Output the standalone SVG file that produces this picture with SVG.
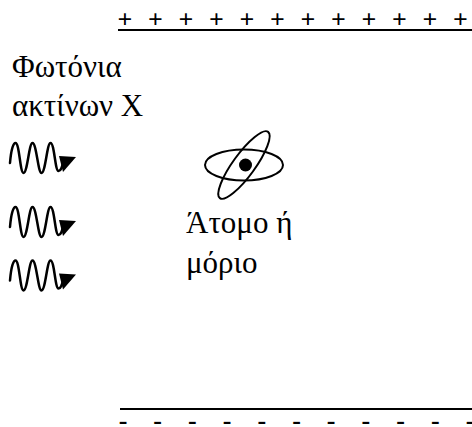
<svg xmlns="http://www.w3.org/2000/svg" width="472" height="427" viewBox="0 0 472 427">
  <style>
    .label { font-family: "Liberation Serif", "Times New Roman", serif; font-size: 31px; fill: #000; }
    .sign { font-family: "Liberation Serif", "Times New Roman", serif; font-size: 26px; font-weight: bold; fill: #000; text-anchor: middle; }
    .plate { stroke: #000; stroke-width: 2; fill: none; }
    .orbit { stroke: #000; stroke-width: 2; fill: none; }
    .wave { stroke: #000; stroke-width: 2.5; fill: none; stroke-linecap: round; }
  </style>
  <defs>
    <!-- wavy photon with arrowhead -->
    <g id="photon">
      <path class="wave" d="M10,163 C11,151 13,143 15.5,143 C19.5,143 20,173 23.5,173 C27.5,173 29,143 32.5,143 C36.5,143 38,173 41.5,173 C45.5,173 47,143 50.5,143 C54.5,143 55,171 58.5,171 C61,171 62,167 63,163"/>
      <polygon points="59,156 76,157 63,172" fill="#000"/>
    </g>
  </defs>

  <rect width="472" height="427" fill="#fff"/>

  <!-- positive plate -->
  <g id="plate-positive">
    <line class="plate" x1="118" y1="30" x2="472" y2="30"/>
    <text class="sign" x="125 155.5 186 216.5 247 277.5 308 338.5 369 399.5 430 460.5" y="28">++++++++++++</text>
  </g>

  <!-- negative plate -->
  <g id="plate-negative">
    <line class="plate" x1="120" y1="409" x2="472" y2="409"/>
    <text class="sign" x="123 157.7 192.4 227.1 261.8 296.5 331.2 365.9 400.6 435.3 470" y="429">-----------</text>
  </g>

  <!-- photon source -->
  <g id="photons-label">
    <text class="label" x="12" y="77">Φωτόνια</text>
    <text class="label" x="12" y="116">ακτίνων X</text>
  </g>
  <g id="photon-1"><use href="#photon"/></g>
  <g id="photon-2"><use href="#photon" transform="translate(0,64)"/></g>
  <g id="photon-3"><use href="#photon" transform="translate(0,117.5)"/></g>

  <!-- atom -->
  <g id="atom">
    <ellipse class="orbit" cx="244" cy="165" rx="39" ry="15.5"/>
    <ellipse class="orbit" cx="244" cy="165" rx="41" ry="11" transform="rotate(-54 244 165)"/>
    <circle cx="245.5" cy="165" r="6.5" fill="#000"/>
  </g>
  <g id="atom-label">
    <text class="label" x="186" y="233">Άτομο ή</text>
    <text class="label" x="186" y="273">μόριο</text>
  </g>
</svg>
